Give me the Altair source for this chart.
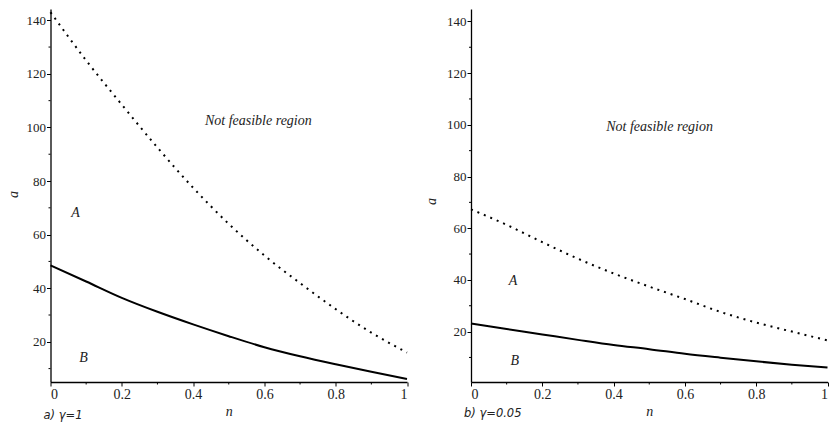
import altair as alt
import pandas as pd

# Abscissa n and the two boundary curves for each gamma case
n_values = [0.0, 0.1, 0.2, 0.3, 0.4, 0.5, 0.6, 0.7, 0.8, 0.9, 1.0]

upper_g1 = [143.0, 125.0, 108.5, 92.5, 77.5, 64.0, 52.2, 41.9, 32.2, 23.4, 16.0]
lower_g1 = [48.5, 42.5, 36.4, 31.2, 26.5, 22.1, 18.0, 14.6, 11.6, 8.8, 6.1]

upper_g005 = [67.3, 61.3, 54.6, 48.2, 42.5, 37.4, 32.6, 27.6, 23.5, 20.0, 16.6]
lower_g005 = [23.1, 21.0, 18.9, 16.8, 14.8, 13.2, 11.4, 9.9, 8.5, 7.2, 6.1]

# Region labels (text, n, a) for each panel
labels_g1 = (["Not feasible region", "A", "B"], [0.583, 0.07, 0.093], [102.3, 68.2, 14.1])
labels_g005 = (["Not feasible region", "A", "B"], [0.529, 0.118, 0.123], [99.0, 39.6, 8.6])

captions = ["a) \u03b3=1", "b) \u03b3=0.05"]

# Major (labelled) and minor tick positions
y_major = [20, 40, 60, 80, 100, 120, 140]
y_minor = [10, 30, 50, 70, 90, 110, 130]
x_major = [0, 0.2, 0.4, 0.6, 0.8, 1]
x_minor = [0.1, 0.3, 0.5, 0.7, 0.9]

SERIF = "Liberation Serif"
W, H = 356.5, 373


def panel(upper, lower, labels, y_domain, caption, cap_y, title_x, title_y):
    df = pd.DataFrame({"n": n_values, "upper": upper, "lower": lower})
    xs = alt.Scale(domain=[0, 1], nice=False, zero=False)
    ys = alt.Scale(domain=y_domain, nice=False, zero=False)

    x_axis = alt.Axis(
        values=x_major, format="~g", tickSize=4, labelFontSize=14,
        title="n", titleX=W / 2, titleY=29, titleBaseline="middle",
    )
    y_axis = alt.Axis(
        values=y_major, format="d", tickSize=4,
        title="a", titleX=title_x, titleY=title_y, titleBaseline="middle", titleAlign="center",
    )

    base = alt.Chart(df)
    solid = base.mark_line(color="black", strokeWidth=2, interpolate="monotone").encode(
        x=alt.X("n:Q", scale=xs, axis=x_axis),
        y=alt.Y("lower:Q", scale=ys, axis=y_axis),
    )
    dotted = base.mark_line(
        color="black", strokeWidth=2, strokeDash=[2, 5], strokeCap="butt", interpolate="monotone"
    ).encode(x=alt.X("n:Q", scale=xs), y=alt.Y("upper:Q", scale=ys))

    # short unlabelled minor ticks on both axes
    yminor = alt.Chart(pd.DataFrame({"v": y_minor})).mark_rule(color="black", strokeWidth=1).encode(
        y=alt.Y("v:Q", scale=ys), x=alt.value(-2), x2=alt.value(0)
    )
    xminor = alt.Chart(pd.DataFrame({"v": x_minor})).mark_rule(color="black", strokeWidth=1).encode(
        x=alt.X("v:Q", scale=xs), y=alt.value(H), y2=alt.value(H + 2.5)
    )

    ldf = pd.DataFrame({"t": labels[0], "n": labels[1], "a": labels[2]})
    text = alt.Chart(ldf).mark_text(
        font=SERIF, fontSize=14, fontStyle="italic", color="#222", baseline="middle"
    ).encode(x=alt.X("n:Q", scale=xs), y=alt.Y("a:Q", scale=ys), text="t:N")

    cap = alt.Chart(pd.DataFrame({"c": [caption]})).mark_text(
        font="DejaVu Sans", fontSize=11.5, fontStyle="italic", color="#222",
        align="left", baseline="middle",
    ).encode(x=alt.value(-7), y=alt.value(cap_y), text="c:N")

    return alt.layer(solid, dotted, yminor, xminor, text, cap).properties(width=W, height=H)


left = panel(upper_g1, lower_g1, labels_g1, [5, 144.2], captions[0], 407, -37, 185)
right = panel(upper_g005, lower_g005, labels_g005, [0.5, 144.8], captions[1], 405, -40, 192)

chart = (
    alt.hconcat(left, right, spacing=63.5, bounds="flush")
    .properties(
        padding={"left": 6.5, "top": 8, "right": 0, "bottom": 0},
        background="white",
    )
    .configure_view(stroke=None)
    .configure_axis(
        domainColor="black", domainWidth=1.3, tickColor="black", tickWidth=1,
        labelFont=SERIF, labelFontSize=13, labelColor="#222", labelPadding=1,
        titleFont=SERIF, titleFontSize=14, titleFontStyle="italic", titleFontWeight="normal",
        titleColor="#222", grid=False,
    )
)

chart.save("out.html", embed_options={"renderer": "svg", "actions": False})
